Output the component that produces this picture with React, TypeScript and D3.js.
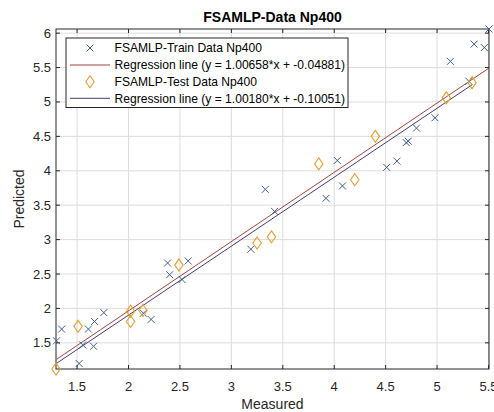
import React from "react";
import * as d3 from "d3";

const trainX = [1.30, 1.35, 1.52, 1.555, 1.61, 1.66, 1.67, 1.76, 2.145, 2.22, 2.38, 2.40, 2.52, 2.58, 3.19, 3.33, 3.42, 3.92, 4.03, 4.08, 4.51, 4.61, 4.70, 4.72, 4.80, 4.98, 5.13, 5.31, 5.36, 5.46, 5.505];
const trainY = [1.53, 1.70, 1.20, 1.47, 1.70, 1.45, 1.81, 1.94, 1.93, 1.84, 2.66, 2.49, 2.42, 2.69, 2.86, 3.73, 3.41, 3.60, 4.15, 3.78, 4.05, 4.14, 4.41, 4.43, 4.62, 4.77, 5.59, 5.30, 5.84, 5.79, 6.06];
const testX = [1.295, 1.51, 2.02, 2.02, 2.14, 2.49, 3.25, 3.39, 3.85, 4.20, 4.40, 5.09, 5.34];
const testY = [1.12, 1.74, 1.96, 1.81, 1.97, 2.63, 2.95, 3.04, 4.10, 3.87, 4.50, 5.06, 5.28];
const trainFit = { slope: 1.00658, intercept: -0.04881 };
const testFit = { slope: 1.0018, intercept: -0.10051 };
const xTicks = [1.5, 2, 2.5, 3, 3.5, 4, 4.5, 5, 5.5];
const yTicks = [1.5, 2, 2.5, 3, 3.5, 4, 4.5, 5, 5.5, 6];
const legendLabels = [
  "FSAMLP-Train Data Np400",
  "Regression line (y = 1.00658*x + -0.04881)",
  "FSAMLP-Test Data Np400",
  "Regression line (y = 1.00180*x + -0.10051)",
];

const W = 494, H = 412;
const L = 56, R = 489, T = 29, B = 369;
const cTrain = "#3f5f8f";
const cTest = "#e0a030";
const cTrainLine = "#a3453a";
const cTestLine = "#463c70";
const font = "'Liberation Sans', Arial, sans-serif";

export default function App() {
  const x = d3.scaleLinear().domain([1.295, 5.505]).range([L, R]);
  const y = d3.scaleLinear().domain([1.12, 6.06]).range([B, T]);
  const line = d3.line<[number, number]>().x(d => x(d[0])).y(d => y(d[1]));
  const trX = d3.extent(trainX) as [number, number];
  const teX = d3.extent(testX) as [number, number];
  const trLine: [number, number][] = trX.map(v => [v, trainFit.slope * v + trainFit.intercept]);
  const teLine: [number, number][] = teX.map(v => [v, testFit.slope * v + testFit.intercept]);
  const cross = (cx: number, cy: number, k: string, s = 3.5) => (
    <path key={k} d={`M${cx - s},${cy - s}L${cx + s},${cy + s}M${cx - s},${cy + s}L${cx + s},${cy - s}`} stroke={cTrain} strokeWidth={1} fill="none" />
  );
  const diamond = (cx: number, cy: number, k: string, s = 6) => (
    <path key={k} d={`M${cx},${cy - s}L${cx + s * 0.7},${cy}L${cx},${cy + s}L${cx - s * 0.7},${cy}Z`} stroke={cTest} strokeWidth={1.1} fill="none" />
  );
  const legRows = [48, 65, 81.7, 98.3];
  return (
    <svg width={W} height={H} style={{ position: "absolute", left: 0, top: 0, background: "#fff" }} fontFamily={font}>
      <rect x={0} y={0} width={W} height={H} fill="#fff" />
      {xTicks.map(t => <line key={"gx" + t} x1={x(t)} x2={x(t)} y1={T} y2={B} stroke="#dcdcdc" strokeWidth={1} />)}
      {yTicks.map(t => <line key={"gy" + t} x1={L} x2={R} y1={y(t)} y2={y(t)} stroke="#dcdcdc" strokeWidth={1} />)}
      <rect x={L} y={T} width={R - L} height={B - T} fill="none" stroke="#262626" strokeWidth={1} />
      {xTicks.map(t => (
        <g key={"tx" + t}>
          <line x1={x(t)} x2={x(t)} y1={B} y2={B - 4} stroke="#262626" />
          <line x1={x(t)} x2={x(t)} y1={T} y2={T + 4} stroke="#262626" />
          <text x={x(t)} y={391} textAnchor="middle" fontSize={13} fill="#262626">{t}</text>
        </g>
      ))}
      {yTicks.map(t => (
        <g key={"ty" + t}>
          <line x1={L} x2={L + 4} y1={y(t)} y2={y(t)} stroke="#262626" />
          <line x1={R} x2={R - 4} y1={y(t)} y2={y(t)} stroke="#262626" />
          <text x={51} y={y(t) + 4.5} textAnchor="end" fontSize={13} fill="#262626">{t}</text>
        </g>
      ))}
      <path d={line(trLine) || ""} stroke={cTrainLine} strokeWidth={1} fill="none" />
      <path d={line(teLine) || ""} stroke={cTestLine} strokeWidth={1} fill="none" />
      {trainX.map((v, i) => cross(x(v), y(trainY[i]), "tr" + i))}
      {testX.map((v, i) => diamond(x(v), y(testY[i]), "te" + i))}
      <text x={(L + R) / 2} y={22} textAnchor="middle" fontSize={14} fontWeight="bold" fill="#000">FSAMLP-Data Np400</text>
      <text x={(L + R) / 2} y={409} textAnchor="middle" fontSize={14} fill="#262626">Measured</text>
      <text transform={`translate(24,${(T + B) / 2}) rotate(-90)`} textAnchor="middle" fontSize={14} fill="#262626">Predicted</text>
      <rect x={66} y={38} width={282} height={69.5} fill="#fff" stroke="#262626" strokeWidth={1} />
      {cross(90, legRows[0], "lg0")}
      <line x1={70} x2={110} y1={legRows[1]} y2={legRows[1]} stroke={cTrainLine} />
      {diamond(90, legRows[2], "lg2")}
      <line x1={70} x2={110} y1={legRows[3]} y2={legRows[3]} stroke={cTestLine} />
      {legendLabels.map((s, i) => (
        <text key={"lt" + i} x={114.5} y={legRows[i] + 4.3} fontSize={12.1} fill="#000">{s}</text>
      ))}
    </svg>
  );
}
